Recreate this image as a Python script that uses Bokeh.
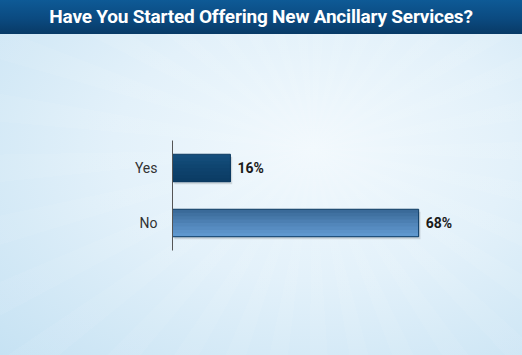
from bokeh.plotting import figure
from bokeh.models import ColumnDataSource, Range1d, FactorRange, LabelSet, Div
from bokeh.transform import dodge
from bokeh.core.properties import value
from bokeh.layouts import column
from bokeh.embed import file_html
from bokeh.resources import INLINE

title = "Have You Started Offering New Ancillary Services?"
categories = ["No", "Yes"]
values = [68, 16]
labels = ["68%", "16%"]

# gradient colours (top -> bottom) per bar
grad = {
    "Yes": ["#154e7c", "#134b78", "#114874", "#0f4570", "#0e426d", "#0d406a", "#0c3e67", "#0b3c64"],
    "No": ["#3a6a99", "#4071a1", "#4678a9", "#4c7fb2", "#5286ba", "#578cc1", "#5b92c8", "#5f98cf"],
}
NS = 8
H = 0.5

src_data = dict(cat=categories, val=values, lab=labels)
for i in range(NS):
    src_data[f"c{i}"] = [grad[c][i] for c in categories]
src = ColumnDataSource(src_data)

banner = Div(
    text=f"<div style='width:522px;text-align:center;line-height:34px;white-space:nowrap;"
         f"font-family:Roboto,\"Liberation Sans\",sans-serif;font-weight:bold;font-size:19px;color:white;"
         f"letter-spacing:-0.2px;'>{title}</div>",
    width=522, height=34, margin=(0, 0, 0, 0),
    styles={"background": "linear-gradient(to bottom, #0e5a96 0%, #0b4a80 55%, #083a66 100%)"},
)

p = figure(
    width=522, height=321, margin=(0, 0, 0, 0),
    y_range=FactorRange(*categories),
    x_range=Range1d(0, 350 / 3.62),
    output_backend="svg", toolbar_location=None,
    min_border_left=172, min_border_right=0, min_border_top=106, min_border_bottom=105,
)
p.background_fill_color = None
p.border_fill_color = None
p.outline_line_color = None
p.grid.visible = False
p.xaxis.visible = False
p.yaxis.major_tick_line_color = None
p.yaxis.minor_tick_line_color = None
p.yaxis.axis_line_color = "#555555"
p.yaxis.major_label_text_font = "Roboto"
p.yaxis.major_label_text_font_size = "14px"
p.yaxis.major_label_text_color = "#333333"
p.yaxis.major_label_standoff = 9

# shadow
p.hbar(y=dodge("cat", -0.045, range=p.y_range), right=dodge("val", 0.5), left=0.5, height=H,
       source=src, fill_color="#000000", fill_alpha=0.12, line_color=None)

# layered gradient: each layer covers the remaining lower part of the bar
for i in range(NS):
    hh = H * (NS - i) / NS
    off = -H / 2 + hh / 2
    p.hbar(y=dodge("cat", off, range=p.y_range), right="val", left=0, height=hh,
           source=src, fill_color=f"c{i}", line_color=None)

p.hbar(y="cat", right="val", left=0, height=H, source=src,
       fill_color=None, line_color="#0d3a60", line_width=1)

lbl = LabelSet(x="val", y="cat", text="lab", source=src, x_offset=7, y_offset=0,
               text_baseline="middle", text_font=value("Roboto"),
               text_font_style="bold", text_font_size="14px", text_color="#1a1a1a")
p.add_layout(lbl)

layout = column(
    banner, p, width=522, height=355, spacing=0,
    styles={
        "background": "repeating-conic-gradient(from 0deg at 60% 42%, rgba(255,255,255,0.06) 0deg 5deg, rgba(255,255,255,0) 5deg 11deg),"
                      " radial-gradient(ellipse at 60% 42%, #f2f9fd 0%, #e3f1fa 45%, #c6e2f3 100%)",
    },
)

open("out.html", "w").write(file_html(layout, INLINE))
